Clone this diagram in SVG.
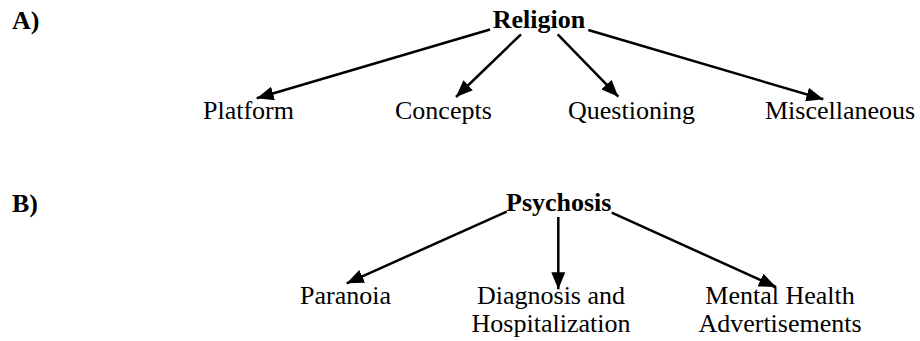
<svg xmlns="http://www.w3.org/2000/svg" width="920" height="341" viewBox="0 0 920 341">
<style>
text { font-family: "Liberation Serif", "Times New Roman", serif; font-size: 26px; fill: #000; }
.b { font-weight: bold; }
.c { stroke: #000; stroke-width: 2.5; fill: none; marker-end: url(#ah); }
</style>
<defs>
<marker id="ah" markerUnits="userSpaceOnUse" markerWidth="18" markerHeight="14" refX="17" refY="7" orient="auto">
<path d="M0,0 L17,7 L0,14 z" fill="#000"/>
</marker>
</defs>
<rect width="920" height="341" fill="#fff"/>
<g id="labelA"><text class="b" x="12" y="29">A)</text></g>
<g id="labelB"><text class="b" x="12" y="212">B)</text></g>
<g id="religion"><text class="b" x="492.7" y="28">Religion</text></g>
<g id="platform"><text x="203" y="119">Platform</text></g>
<g id="concepts"><text x="395" y="119">Concepts</text></g>
<g id="questioning"><text x="568" y="119">Questioning</text></g>
<g id="miscellaneous"><text x="765" y="119">Miscellaneous</text></g>
<g id="psychosis"><text class="b" x="506" y="211">Psychosis</text></g>
<g id="paranoia"><text x="300" y="304">Paranoia</text></g>
<g id="diagnosis"><text x="551" y="304" text-anchor="middle">Diagnosis and</text><text x="551" y="332" text-anchor="middle">Hospitalization</text></g>
<g id="mentalhealth"><text x="780" y="304" text-anchor="middle">Mental Health</text><text x="780" y="332" text-anchor="middle">Advertisements</text></g>
<g id="connectors">
<line class="c" x1="490" y1="29.5" x2="256.7" y2="98.3"/>
<line class="c" x1="521" y1="34.3" x2="456" y2="97"/>
<line class="c" x1="557.7" y1="34.3" x2="618.3" y2="96.7"/>
<line class="c" x1="588.3" y1="30" x2="823.3" y2="99.3"/>
<line class="c" x1="506.7" y1="211.7" x2="346.7" y2="283.3"/>
<line class="c" x1="558.3" y1="217" x2="558.3" y2="289.3"/>
<line class="c" x1="611.7" y1="212.7" x2="776" y2="287"/>
</g>
</svg>
